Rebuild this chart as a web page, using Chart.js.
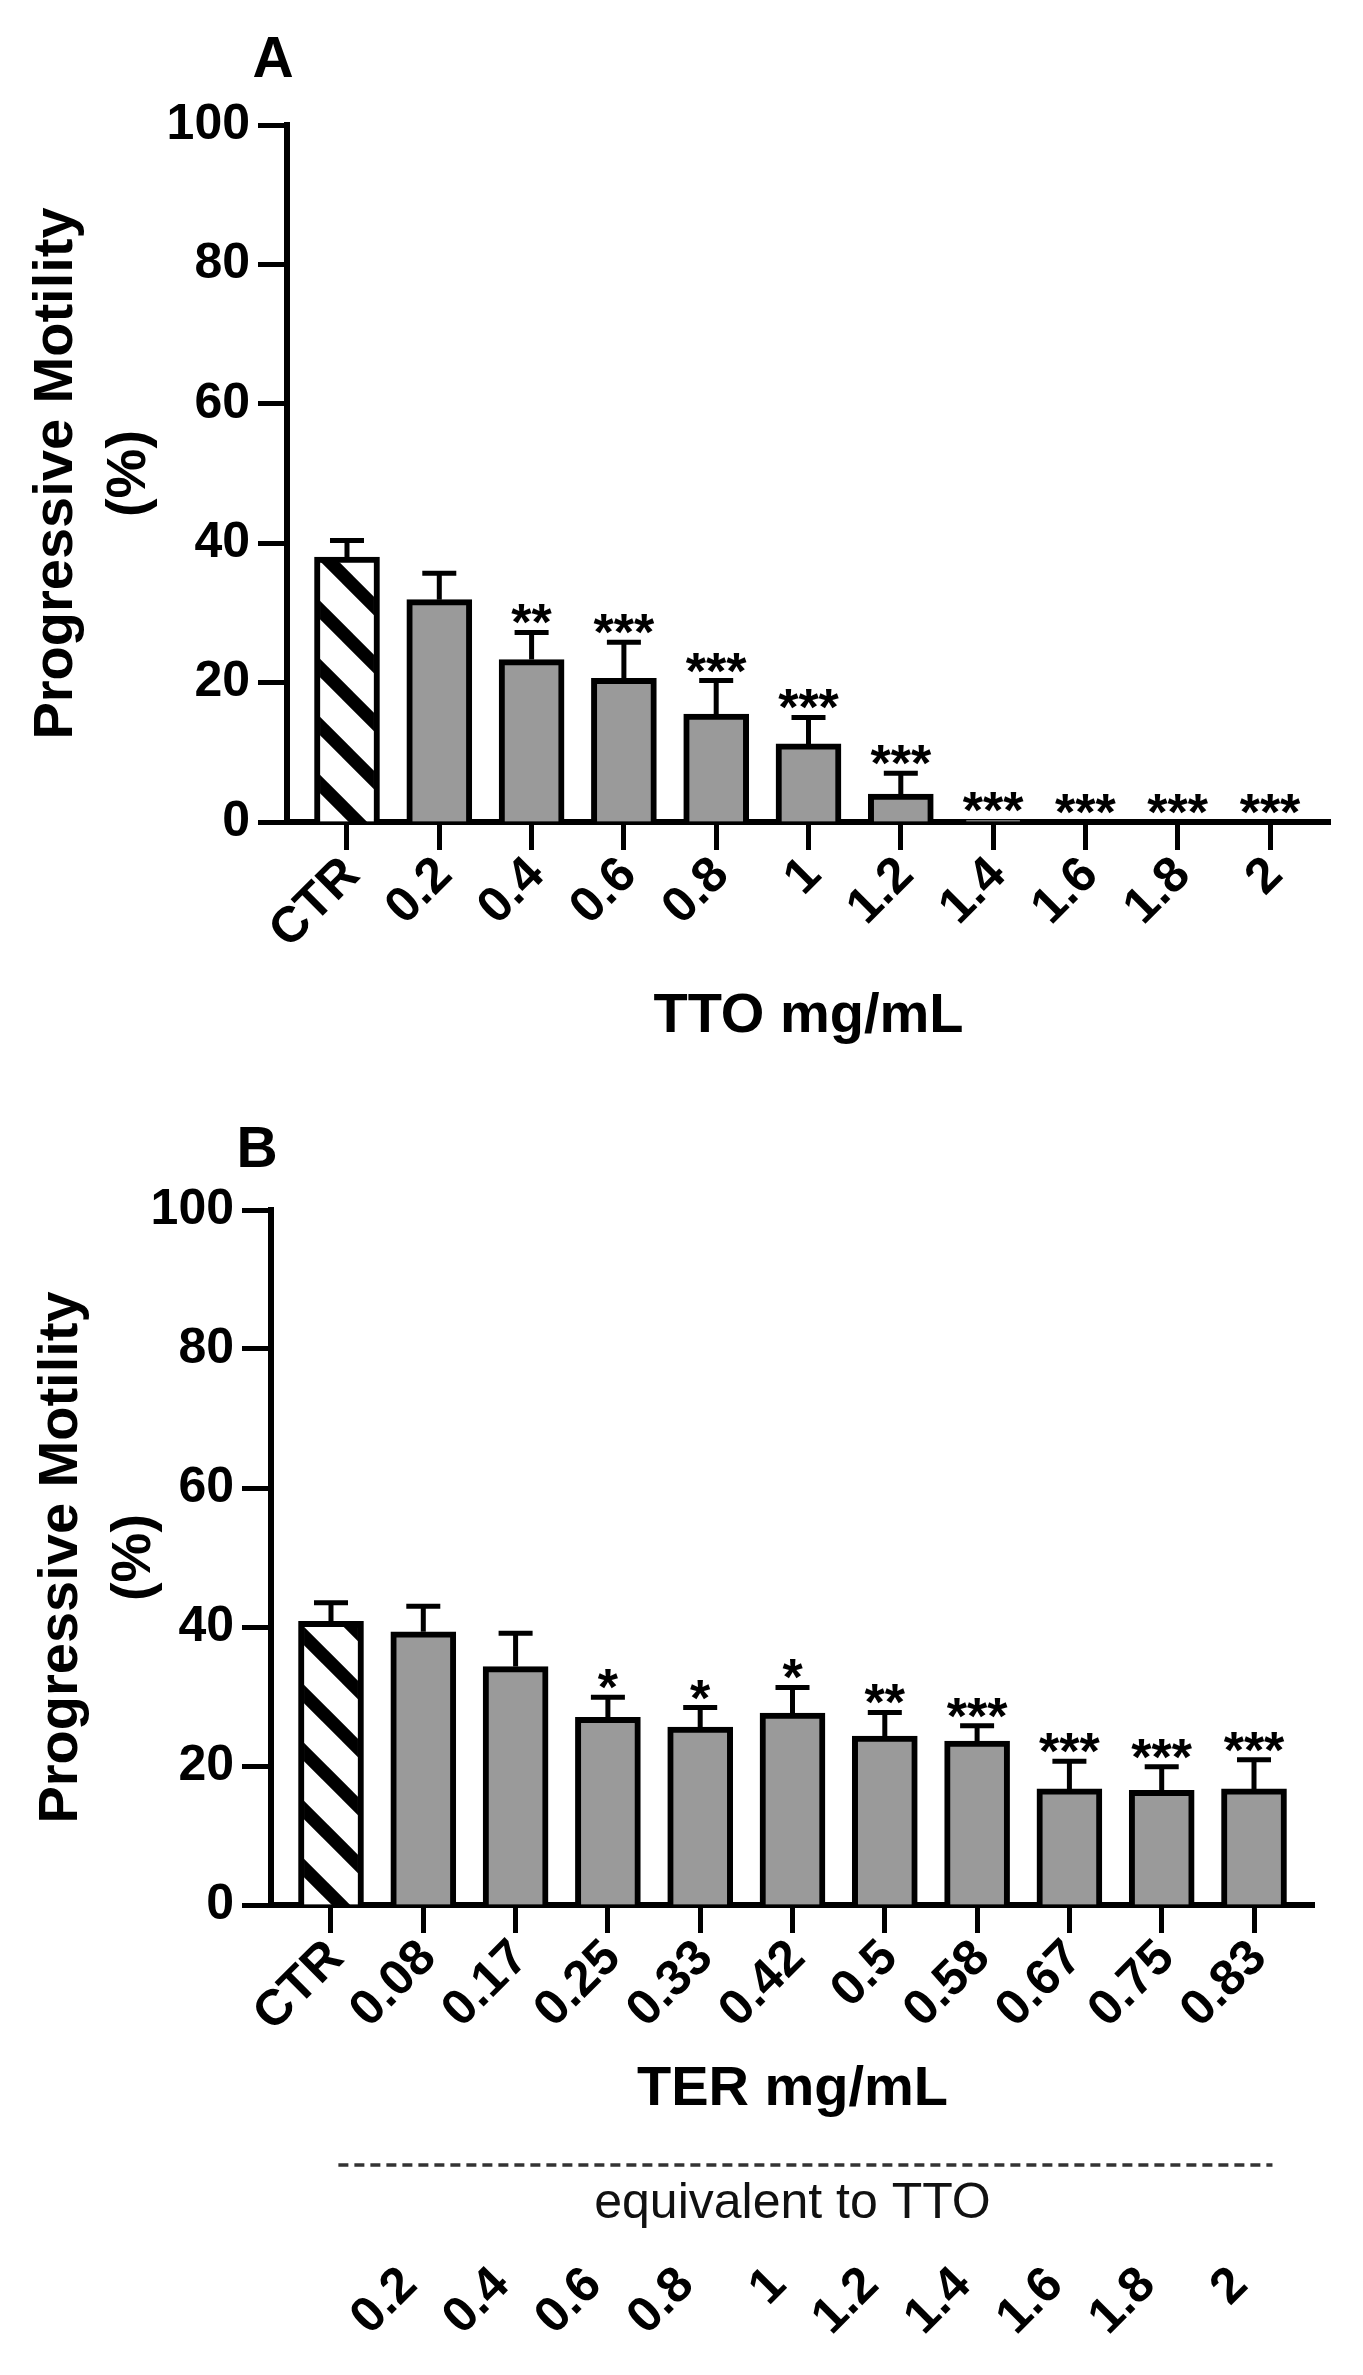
<!DOCTYPE html>
<html>
<head>
<meta charset="utf-8">
<script src="https://cdn.jsdelivr.net/npm/chart.js@4.4.1/dist/chart.umd.min.js"></script>
<style>
  html, body { margin: 0; padding: 0; background: #fff; }
  canvas { position: absolute; left: 0; }
</style>
</head>
<body>
<canvas id="chartA" width="1363" height="1100" style="top:0"></canvas>
<canvas id="chartB" width="1363" height="1275" style="top:1100px"></canvas>
<script>
// panel A - TTO
const ttoLabels = ['CTR', '0.2', '0.4', '0.6', '0.8', '1', '1.2', '1.4', '1.6', '1.8', '2']
const ttoMeans = [38.0, 31.9, 23.3, 20.6, 15.5, 11.2, 4.0, 0.3, 0, 0, 0]
const ttoErrors = [2.4, 3.8, 3.9, 5.2, 4.8, 3.8, 3.0, 0, 0, 0, 0]
const ttoStars = ['', '', '**', '***', '***', '***', '***', '***', '***', '***', '***']

// panel B - TER
const terLabels = ['CTR', '0.08', '0.17', '0.25', '0.33', '0.42', '0.5', '0.58', '0.67', '0.75', '0.83']
const terMeans = [40.8, 39.3, 34.3, 27.0, 25.6, 27.6, 24.3, 23.6, 16.7, 16.5, 16.7]
const terErrors = [2.7, 3.7, 4.8, 2.9, 2.8, 3.7, 3.4, 2.2, 4.0, 3.4, 4.2]
const terStars = ['', '', '', '*', '*', '*', '**', '***', '***', '***', '***']
const ttoEquivalent = ['', '0.2', '0.4', '0.6', '0.8', '1', '1.2', '1.4', '1.6', '1.8', '2']

const FONT = "'Liberation Sans', Arial, sans-serif"
Chart.defaults.font.family = FONT
Chart.defaults.color = '#000'

function hatch() {
    const s = 58
    const c = document.createElement('canvas')
    c.width = s
    c.height = s
    const g = c.getContext('2d')
    g.fillStyle = '#fff'
    g.fillRect(0, 0, s, s)
    g.strokeStyle = '#000'
    g.lineWidth = 13
    ;[-s, 0, s].forEach(k => {
        g.beginPath()
        g.moveTo(-s, -s + k)
        g.lineTo(2 * s, 2 * s + k)
        g.stroke()
    })
    return g.createPattern(c, 'repeat')
}

// error bars, significance stars, panel letter, "equivalent" strip
const decor = {
    id: 'decor',
    afterDatasetsDraw(chart, args, opts) {
        const {ctx, chartArea} = chart
        const y = chart.scales.y
        const ds = chart.data.datasets[0]
        const meta = chart.getDatasetMeta(0)
        ctx.save()
        ctx.strokeStyle = '#000'
        ctx.fillStyle = '#000'
        ctx.lineWidth = 5
        meta.data.forEach((bar, i) => {
            const top = y.getPixelForValue(ds.data[i].y + ds.errors[i])
            if (ds.errors[i] > 0) {
                ctx.beginPath()
                ctx.moveTo(bar.x, bar.y)
                ctx.lineTo(bar.x, top)
                ctx.moveTo(bar.x - 17, top)
                ctx.lineTo(bar.x + 17, top)
                ctx.stroke()
            }
            if (ds.stars[i]) {
                ctx.font = 'bold 52px ' + FONT
                ctx.textAlign = 'center'
                ctx.textBaseline = 'alphabetic'
                ctx.fillText(ds.stars[i], bar.x, top + 8)
            }
        })
        ctx.font = 'bold 57px ' + FONT
        ctx.textAlign = 'center'
        ctx.textBaseline = 'alphabetic'
        ctx.fillText(opts.letter, chartArea.left - 14, chartArea.top - opts.letterGap)
        if (opts.equivalent) {
            const x = chart.scales.x
            ctx.strokeStyle = '#333'
            ctx.lineWidth = 3.5
            ctx.setLineDash([10, 6])
            ctx.beginPath()
            ctx.moveTo(x.getPixelForValue(0.08), x.bottom - 83)
            ctx.lineTo(x.getPixelForValue(10.2), x.bottom - 83)
            ctx.stroke()
            ctx.setLineDash([])
            ctx.font = '50px ' + FONT
            ctx.fillStyle = '#111'
            ctx.fillText('equivalent to TTO', (chartArea.left + chartArea.right) / 2, x.bottom - 30)
        }
        ctx.restore()
    }
}

function intTicks(labels) {
    return scale => {
        scale.ticks = labels.map((_, i) => ({value: i}))
    }
}

function xAxis(labels, title, height, titlePad) {
    return {
        type: 'linear',
        min: -0.65,
        max: 10.65,
        offset: false,
        afterBuildTicks: intTicks(labels),
        afterFit: s => { s.height = height },
        ticks: {
            autoSkip: false,
            minRotation: 45,
            maxRotation: 45,
            padding: -4,
            labelOffset: 5,
            font: {size: 50, weight: 'bold'},
            callback: v => labels[v]
        },
        grid: {display: true, offset: false, drawOnChartArea: false, tickLength: 28, tickWidth: 5, tickColor: '#000'},
        border: {display: true, color: '#000', width: 6},
        title: {display: true, text: title, font: {size: 56, weight: 'bold'}, padding: {top: 0, bottom: titlePad}}
    }
}

function yAxis(width, titlePad) {
    return {
        min: 0,
        max: 100,
        afterFit: s => { s.width = width },
        ticks: {stepSize: 20, padding: 8, font: {size: 50, weight: 'bold'}},
        grid: {display: true, drawOnChartArea: false, tickLength: 29, tickWidth: 5, tickColor: '#000'},
        border: {display: true, color: '#000', width: 6},
        title: {
            display: true,
            text: ['Progressive Motility', '(%)'],
            font: {size: 56, weight: 'bold', lineHeight: 1.3},
            padding: {top: titlePad, bottom: 0}
        }
    }
}

function dataset(means, errors, stars) {
    const pattern = hatch()
    return {
        data: means.map((v, i) => ({x: i, y: v})),
        errors: errors,
        stars: stars,
        backgroundColor: means.map((_, i) => i === 0 ? pattern : '#9a9a9a'),
        borderColor: '#000',
        borderWidth: 6,
        barThickness: 65
    }
}

const common = {
    responsive: false,
    animation: false,
    devicePixelRatio: 1,
    events: []
}

new Chart(document.getElementById('chartA'), {
    type: 'bar',
    data: {datasets: [dataset(ttoMeans, ttoErrors, ttoStars)]},
    options: {
        ...common,
        layout: {padding: {top: 125, right: 33, left: 0, bottom: 0}},
        scales: {
            x: xAxis(ttoLabels, 'TTO mg/mL', 278, 50),
            y: yAxis(287, 20)
        },
        plugins: {
            legend: {display: false},
            tooltip: {enabled: false},
            decor: {letter: 'A', letterGap: 48, equivalent: false}
        }
    },
    plugins: [decor]
})

const x2 = {
    type: 'linear',
    position: 'bottom',
    min: -0.65,
    max: 10.65,
    offset: false,
    afterBuildTicks: intTicks(ttoEquivalent),
    afterFit: s => { s.height = 127 },
    ticks: {
        autoSkip: false,
        minRotation: 45,
        maxRotation: 45,
        padding: 0,
        labelOffset: -14,
        font: {size: 50, weight: 'bold'},
        callback: v => ttoEquivalent[v]
    },
    grid: {display: false},
    border: {display: false}
}

new Chart(document.getElementById('chartB'), {
    type: 'bar',
    data: {datasets: [dataset(terMeans, terErrors, terStars)]},
    options: {
        ...common,
        layout: {padding: {top: 110, right: 49, left: 0, bottom: 0}},
        scales: {
            x: xAxis(terLabels, 'TER mg/mL', 343, 125),
            x2: x2,
            y: yAxis(271, 25)
        },
        plugins: {
            legend: {display: false},
            tooltip: {enabled: false},
            decor: {letter: 'B', letterGap: 43, equivalent: true}
        }
    },
    plugins: [decor]
})
</script>
</body>
</html>
